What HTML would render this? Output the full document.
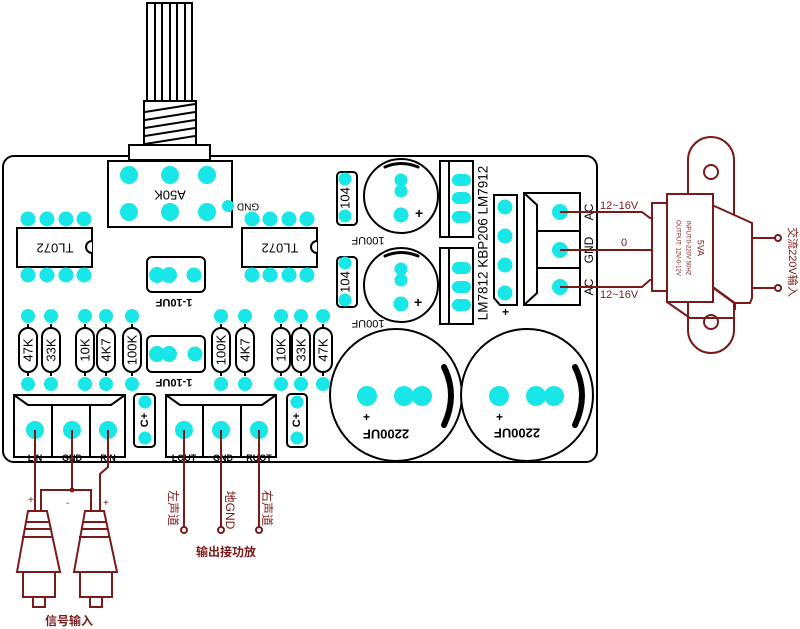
<!DOCTYPE html>
<html><head><meta charset="utf-8"><style>
html,body{margin:0;padding:0;background:#fff;}
svg{display:block;}
text{font-family:"Liberation Sans","Noto Sans CJK SC",sans-serif;}
</style></head><body>
<svg width="800" height="629" viewBox="0 0 800 629" xmlns="http://www.w3.org/2000/svg">
<defs>
<g id="res"><line x1="0" y1="-26" x2="0" y2="26" stroke="#000" stroke-width="2"/><rect x="-9" y="-22" width="18" height="44" rx="9" fill="#fff" stroke="#000" stroke-width="2"/></g>
</defs>
<g fill="none" stroke="#000" stroke-width="2">
<rect x="3" y="156" width="594" height="306" rx="11" fill="#fff"/>
<rect x="147" y="3" width="45" height="98"/>
<line x1="155" y1="3" x2="155" y2="101"/><line x1="162" y1="3" x2="162" y2="101"/><line x1="170" y1="3" x2="170" y2="101"/><line x1="177" y1="3" x2="177" y2="101"/><line x1="185" y1="3" x2="185" y2="101"/>
<rect x="144" y="101" width="52" height="44"/>
<line x1="145" y1="112" x2="195" y2="104"/><line x1="145" y1="120" x2="195" y2="112"/><line x1="145" y1="128" x2="195" y2="120"/><line x1="145" y1="136" x2="195" y2="128"/><line x1="145" y1="144" x2="195" y2="136"/>
<rect x="129" y="145" width="81" height="15" fill="#fff"/>
<rect x="108" y="161" width="124" height="66"/>
<rect x="17" y="228" width="75" height="39"/>
<path d="M92 241 a6 6 0 0 0 0 12" fill="#fff"/>
<rect x="242" y="228" width="75" height="39"/>
<path d="M317 241 a6 6 0 0 0 0 12" fill="#fff"/>
<rect x="147" y="257" width="58" height="35" rx="5"/>
<rect x="147" y="336" width="58" height="36" rx="5"/>
<rect x="14" y="395" width="111" height="62"/>
<line x1="52" y1="405" x2="52" y2="457"/><line x1="90" y1="405" x2="90" y2="457"/>
<path d="M14 395 L28 405 L111 405 L125 395"/>
<rect x="166" y="395" width="110" height="62"/>
<line x1="203" y1="405" x2="203" y2="457"/><line x1="241" y1="405" x2="241" y2="457"/>
<path d="M166 395 L180 405 L262 405 L276 395"/>
<rect x="134" y="394" width="21" height="53" rx="4"/>
<rect x="287" y="394" width="20" height="53" rx="4"/>
<rect x="337" y="172" width="20" height="53" rx="4"/>
<rect x="337" y="257" width="20" height="50" rx="4"/>
<circle cx="401" cy="196" r="37"/>
<circle cx="401" cy="285" r="37"/>
<rect x="440" y="161" width="33" height="76"/><line x1="449" y1="161" x2="449" y2="237"/>
<rect x="440" y="248" width="33" height="76"/><line x1="449" y1="248" x2="449" y2="324"/>
<path d="M494 195 H517 V305 H500 L494 298 Z"/>
<rect x="524" y="193" width="56" height="112"/>
<line x1="537" y1="231" x2="580" y2="231"/><line x1="537" y1="268" x2="580" y2="268"/>
<path d="M524 193 L537 205 L537 293 L524 305"/>
<circle cx="396" cy="395" r="66" fill="#fff"/>
<circle cx="527" cy="395" r="66" fill="#fff"/>
</g>
<g fill="none" stroke="#000" stroke-width="6" stroke-linecap="round">
<path d="M385 167 Q401 160 418 167" stroke-width="3"/>
<path d="M385 256 Q401 249 418 256" stroke-width="3"/>
<path d="M444 367 Q458 395 444 425"/>
<path d="M575 367 Q589 395 575 425"/>
</g>
<g>
<use href="#res" x="28" y="350"/><use href="#res" x="51" y="350"/><use href="#res" x="85" y="350"/><use href="#res" x="106" y="350"/><use href="#res" x="132" y="350"/>
<use href="#res" x="221" y="350"/><use href="#res" x="245" y="350"/><use href="#res" x="281" y="350"/><use href="#res" x="301" y="350"/><use href="#res" x="323" y="350"/>
</g>
<g fill="#19e6e6">
<circle cx="129" cy="175" r="9"/><circle cx="170" cy="175" r="9"/><circle cx="207" cy="175" r="9"/>
<circle cx="129" cy="212" r="9"/><circle cx="170" cy="212" r="9"/><circle cx="207" cy="212" r="9"/>
<circle cx="228" cy="206" r="6"/>
<circle cx="28" cy="219" r="7.5"/><circle cx="47" cy="219" r="7.5"/><circle cx="66" cy="219" r="7.5"/><circle cx="84" cy="219" r="7.5"/>
<circle cx="28" cy="275" r="7.5"/><circle cx="47" cy="275" r="7.5"/><circle cx="66" cy="275" r="7.5"/><circle cx="84" cy="275" r="7.5"/>
<circle cx="252" cy="219" r="7.5"/><circle cx="270" cy="219" r="7.5"/><circle cx="289" cy="219" r="7.5"/><circle cx="307" cy="219" r="7.5"/>
<circle cx="252" cy="275" r="7.5"/><circle cx="270" cy="275" r="7.5"/><circle cx="289" cy="275" r="7.5"/><circle cx="307" cy="275" r="7.5"/>
<circle cx="157" cy="275" r="8"/><circle cx="169" cy="275" r="8"/><circle cx="194" cy="275" r="7.5"/>
<circle cx="157" cy="354" r="8"/><circle cx="169" cy="354" r="8"/><circle cx="195" cy="354" r="7.5"/>
<circle cx="28" cy="316" r="7"/><circle cx="51" cy="316" r="7"/><circle cx="85" cy="316" r="7"/><circle cx="106" cy="316" r="7"/><circle cx="132" cy="316" r="7"/>
<circle cx="221" cy="316" r="7"/><circle cx="245" cy="316" r="7"/><circle cx="281" cy="316" r="7"/><circle cx="301" cy="316" r="7"/><circle cx="323" cy="316" r="7"/>
<circle cx="28" cy="384" r="7"/><circle cx="51" cy="384" r="7"/><circle cx="85" cy="384" r="7"/><circle cx="106" cy="384" r="7"/><circle cx="132" cy="384" r="7"/>
<circle cx="221" cy="384" r="7"/><circle cx="245" cy="384" r="7"/><circle cx="281" cy="384" r="7"/><circle cx="301" cy="384" r="7"/><circle cx="323" cy="384" r="7"/>
<circle cx="35" cy="430" r="9"/><circle cx="72" cy="430" r="9"/><circle cx="108" cy="430" r="9"/>
<circle cx="184" cy="430" r="9"/><circle cx="221" cy="430" r="9"/><circle cx="259" cy="430" r="9"/>
<circle cx="145" cy="402" r="6.5"/><circle cx="145" cy="438" r="6.5"/>
<circle cx="297" cy="402" r="6.5"/><circle cx="297" cy="438" r="6.5"/>
<circle cx="345" cy="179" r="6.5"/><circle cx="345" cy="216" r="6.5"/>
<circle cx="345" cy="263" r="6.5"/><circle cx="345" cy="300" r="6.5"/>
<circle cx="401" cy="180" r="6.5"/><circle cx="401" cy="191" r="6.5"/><circle cx="401" cy="215" r="7.5"/>
<circle cx="401" cy="269" r="6.5"/><circle cx="401" cy="280" r="6.5"/><circle cx="401" cy="304" r="7.5"/>
<rect x="452" y="174" width="19" height="12" rx="6"/><rect x="452" y="192" width="19" height="12" rx="6"/><rect x="452" y="211" width="19" height="12" rx="6"/>
<rect x="452" y="262" width="19" height="12" rx="6"/><rect x="452" y="281" width="19" height="12" rx="6"/><rect x="452" y="299" width="19" height="12" rx="6"/>
<circle cx="505" cy="207" r="7.5"/><circle cx="505" cy="236" r="7.5"/><circle cx="505" cy="265" r="7.5"/><circle cx="505" cy="293" r="7.5"/>
<circle cx="560" cy="212" r="8"/><circle cx="560" cy="250" r="8"/><circle cx="560" cy="287" r="8"/>
<circle cx="367" cy="396" r="10"/><circle cx="404" cy="396" r="10"/><circle cx="422" cy="396" r="10"/>
<circle cx="499" cy="396" r="10"/><circle cx="536" cy="396" r="10"/><circle cx="554" cy="396" r="10"/>
</g>
<g font-size="12" fill="#000">
<text transform="translate(170,194) rotate(180)" text-anchor="middle" dominant-baseline="middle" font-size="13">A50K</text>
<text transform="translate(248,206) rotate(180)" text-anchor="middle" dominant-baseline="middle" font-size="10">GND</text>
<text transform="translate(55,247) rotate(180)" text-anchor="middle" dominant-baseline="middle" font-size="13">TL072</text>
<text transform="translate(280,247) rotate(180)" text-anchor="middle" dominant-baseline="middle" font-size="13">TL072</text>
<text transform="translate(174,302) rotate(180)" text-anchor="middle" dominant-baseline="middle" font-size="11" font-weight="bold">1-10UF</text>
<text transform="translate(174,382) rotate(180)" text-anchor="middle" dominant-baseline="middle" font-size="11" font-weight="bold">1-10UF</text>
<g font-size="13" text-anchor="middle" dominant-baseline="middle">
<text transform="translate(29,350) rotate(-90)">47K</text><text transform="translate(52,350) rotate(-90)">33K</text>
<text transform="translate(86,350) rotate(-90)">10K</text><text transform="translate(107,350) rotate(-90)">4K7</text>
<text transform="translate(133,350) rotate(-90)">100K</text>
<text transform="translate(222,350) rotate(-90)">100K</text><text transform="translate(246,350) rotate(-90)">4K7</text>
<text transform="translate(282,350) rotate(-90)">10K</text><text transform="translate(302,350) rotate(-90)">33K</text>
<text transform="translate(324,350) rotate(-90)">47K</text>
<text transform="translate(346,198) rotate(-90)">104</text>
<text transform="translate(346,282) rotate(-90)">104</text>
<text transform="translate(368,240) rotate(180)" font-size="11">100UF</text>
<text transform="translate(368,323) rotate(180)" font-size="11">100UF</text>
<text transform="translate(484,243) rotate(-90)" font-size="13.5">LM7812  KBP206  LM7912</text>
<text transform="translate(590,212) rotate(-90)" font-size="12">AC</text>
<text transform="translate(590,250) rotate(-90)" font-size="12">GND</text>
<text transform="translate(590,287) rotate(-90)" font-size="12">AC</text>
<text transform="translate(386,433) rotate(180)" font-size="13" font-weight="bold" font-family="Liberation Serif">2200UF</text>
<text transform="translate(517,432) rotate(180)" font-size="13" font-weight="bold" font-family="Liberation Serif">2200UF</text>
<text transform="translate(145,420) rotate(-90)" font-size="11" font-weight="bold">C+</text>
<text transform="translate(297,420) rotate(-90)" font-size="11" font-weight="bold">C+</text>
</g>
<text x="415" y="218" font-size="14" font-weight="bold">+</text>
<text x="414" y="307" font-size="14" font-weight="bold">+</text>
<text x="502" y="316" font-size="12" font-weight="bold">+</text>
<text x="363" y="421" font-size="12" font-weight="bold">+</text>
<text x="496" y="421" font-size="12" font-weight="bold">+</text>
<g font-size="9" font-weight="bold" text-anchor="middle">
<text x="35" y="461">LIN</text><text x="72" y="461">GND</text><text x="108" y="461">RIN</text>
<text x="184" y="461">LOUT</text><text x="223" y="461">GND</text><text x="259" y="461">RUOT</text>
</g>
</g>
<g stroke="#7a1a1a" stroke-width="2" fill="none">
<line x1="35" y1="430" x2="35" y2="511"/>
<line x1="72" y1="430" x2="72" y2="490"/>
<path d="M41 511 V490 H91 V511"/>
<path d="M108 430 V467 L100 474 V511"/>
<line x1="184" y1="430" x2="184" y2="530"/>
<line x1="221" y1="430" x2="221" y2="530"/>
<line x1="259" y1="430" x2="259" y2="530"/>
<path d="M28 511 H47 L60 572 H17 Z"/>
<line x1="26" y1="522" x2="49" y2="522"/><line x1="24" y1="529" x2="51" y2="529"/><line x1="22" y1="537" x2="53" y2="537"/>
<rect x="23" y="572" width="32" height="25"/><rect x="33" y="597" width="12" height="10"/>
<path d="M85 511 H104 L117 572 H74 Z"/>
<line x1="83" y1="522" x2="106" y2="522"/><line x1="81" y1="529" x2="108" y2="529"/><line x1="79" y1="537" x2="110" y2="537"/>
<rect x="80" y="572" width="32" height="25"/><rect x="90" y="597" width="12" height="10"/>
<path d="M560 212 H642 L650 218 H666"/>
<path d="M560 250 H666"/>
<path d="M560 287 H642 L650 280 H666"/>
<path d="M688 330 V160 a23 23 0 0 1 46 0 V330 a23 23 0 0 1 -46 0 Z" fill="#fff"/>
<circle cx="711" cy="172" r="7"/><circle cx="711" cy="322" r="7"/>
<rect x="652" y="203" width="17" height="88" fill="#fff"/>
<path d="M712 205 L752 223 V298 L750 303 H734 L712 287 Z" fill="#fff"/>
<path d="M713 287 L735 303 M735 303 V310 M667 302 L690 318 H734 V303"/>
<rect x="667" y="194" width="46" height="108" fill="#fff"/>
<path d="M752 238 H775 M752 288 H775"/>
</g>
<g fill="#7a1a1a"><circle cx="72" cy="490" r="2.5"/></g>
<g fill="#fff" stroke="#7a1a1a" stroke-width="2">
<circle cx="184" cy="530" r="3"/><circle cx="221" cy="530" r="3"/><circle cx="259" cy="530" r="3"/>
<circle cx="778" cy="238" r="3"/><circle cx="778" cy="288" r="3"/>
</g>
<g fill="#7a1a1a">
<text x="28" y="503" font-size="10">+</text><text x="66" y="506" font-size="10">-</text><text x="103" y="506" font-size="10">+</text>
<text x="45" y="625" font-size="12" font-weight="bold">信号输入</text>
<text x="196" y="556" font-size="12" font-weight="bold">输出接功放</text>
<text transform="translate(172,508) rotate(90)" font-size="12" text-anchor="middle" dominant-baseline="middle">左声道</text>
<text transform="translate(229,510) rotate(90)" font-size="12" text-anchor="middle" dominant-baseline="middle">地GND</text>
<text transform="translate(266,508) rotate(90)" font-size="12" text-anchor="middle" dominant-baseline="middle">右声道</text>
<text x="600" y="209" font-size="11">12~16V</text>
<text x="621" y="246" font-size="11">0</text>
<text x="600" y="298" font-size="11">12~16V</text>
<text transform="translate(792,262) rotate(90)" font-size="11" text-anchor="middle" dominant-baseline="middle">交流220V输入</text>
<text transform="translate(700,248) rotate(90)" font-size="9" text-anchor="middle" dominant-baseline="middle">5VA</text>
<text transform="translate(688,248) rotate(90)" font-size="6" text-anchor="middle" dominant-baseline="middle">INPUT:0-220V 50HZ</text>
<text transform="translate(678,248) rotate(90)" font-size="6" text-anchor="middle" dominant-baseline="middle">OUTPUT: 12V-0-12V</text>
</g>
</svg>
</body></html>
